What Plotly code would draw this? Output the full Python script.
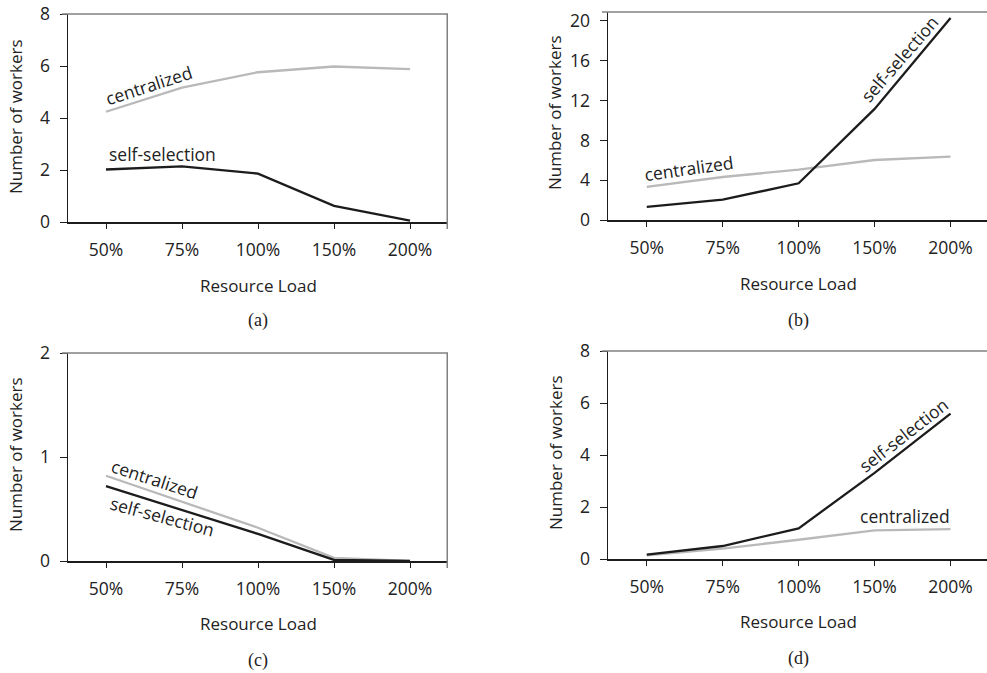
import plotly.graph_objects as go

# ---- data ----
loads = ["50%", "75%", "100%", "150%", "200%"]

a_centralized = [4.24, 5.17, 5.76, 5.98, 5.88]
a_self = [2.02, 2.14, 1.86, 0.62, 0.05]

b_centralized = [3.32, 4.32, 5.06, 6.03, 6.37]
b_self = [1.31, 2.04, 3.69, 11.16, 20.3]

c_centralized = [0.82, 0.57, 0.32, 0.03, 0.0]
c_self = [0.72, 0.49, 0.26, 0.01, 0.0]

d_centralized = [0.14, 0.40, 0.74, 1.10, 1.15]
d_self = [0.17, 0.50, 1.18, 3.31, 5.59]

W, H = 987, 673
FONT = "Open Sans, Lato, sans-serif"
GRAY = "#b9b9b9"
DARK = "#1c1c1c"
FRAME = "#808080"
TXT = "#222222"


def px(x):
    return x / W


def py(y):
    return 1 - y / H


# panel boxes in pixels: left, right, top, bottom
panels = [
    dict(l=68, r=448, t=14, b=222, yr=[0, 8], dt=2, cen=a_centralized, slf=a_self, xr=[-0.5, 4.5], rline=True),
    dict(l=608, r=987, t=12, b=220, yr=[0, 20.9], dt=4, cen=b_centralized, slf=b_self, xr=[-0.51, 4.48], rline=False),
    dict(l=68, r=448, t=353, b=561, yr=[0, 2], dt=1, cen=c_centralized, slf=c_self, xr=[-0.5, 4.5], rline=True),
    dict(l=608, r=987, t=351, b=559, yr=[0, 8], dt=2, cen=d_centralized, slf=d_self, xr=[-0.51, 4.48], rline=False),
]

fig = go.Figure()
layout = dict(
    template="none",
    width=W, height=H, margin=dict(l=0, r=0, t=0, b=0, pad=0, autoexpand=False),
    paper_bgcolor="white", plot_bgcolor="white", showlegend=False,
    font=dict(family=FONT, size=17, color=TXT),
)
shapes = []
for i, p in enumerate(panels):
    n = "" if i == 0 else str(i + 1)
    xa, ya = "x" + n, "y" + n
    fig.add_trace(go.Scatter(x=loads, y=p["cen"], mode="lines", xaxis=xa, yaxis=ya,
                             line=dict(color=GRAY, width=2.3), hoverinfo="skip"))
    fig.add_trace(go.Scatter(x=loads, y=p["slf"], mode="lines", xaxis=xa, yaxis=ya,
                             line=dict(color=DARK, width=2.3), hoverinfo="skip"))
    layout["xaxis" + n] = dict(
        domain=[px(p["l"]), px(p["r"])], anchor=ya, type="category", automargin=False,
        categoryorder="array", categoryarray=loads, range=p["xr"],
        showline=True, linecolor=DARK, linewidth=1.5, showgrid=False, zeroline=False,
        ticks="outside", ticklen=5, tickcolor=DARK, tickwidth=1,
        tickfont=dict(size=17.5, family=FONT, color=TXT), ticklabelstandoff=6,
    )
    layout["yaxis" + n] = dict(
        domain=[py(p["b"]), py(p["t"])], anchor=xa, range=p["yr"], dtick=p["dt"], tick0=0,
        automargin=False,
        showline=True, linecolor=DARK, linewidth=1.5, showgrid=False, zeroline=False,
        ticks="outside", ticklen=7, tickcolor=DARK, tickwidth=1,
        tickfont=dict(size=17.5, family=FONT, color=TXT), ticklabelstandoff=6,
    )
    # top and right frame lines
    shapes.append(dict(type="line", xref="paper", yref="paper",
                       x0=px(p["l"] - 6), x1=px(p["r"]), y0=py(p["t"]), y1=py(p["t"]),
                       line=dict(color=FRAME, width=1.5)))
    if p["rline"]:
        shapes.append(dict(type="line", xref="paper", yref="paper",
                           x0=px(p["r"] - 0.75), x1=px(p["r"] - 0.75), y0=py(p["b"] + 7), y1=py(p["t"]),
                           line=dict(color=FRAME, width=1.5)))

layout["shapes"] = shapes

anns = []


def text(x, y, s, angle=0, size=17, family=FONT):
    anns.append(dict(x=px(x), y=py(y), xref="paper", yref="paper", text=s, showarrow=False,
                     textangle=angle, xanchor="center", yanchor="middle",
                     font=dict(size=size, family=family, color=TXT)))


# axis titles
for (cx, ycx, cy, rly) in [(258, 15, 117, 285), (798, 555, 113, 283),
                           (258, 15, 455, 623), (798, 555, 453, 621)]:
    text(ycx, cy, "Number of workers", angle=-90)
    text(cx, rly, "Resource Load")

SERIF = "Liberation Serif, Times New Roman, serif"
text(258, 320, "(a)", size=18, family=SERIF)
text(798, 320, "(b)", size=18, family=SERIF)
text(258, 660, "(c)", size=18, family=SERIF)
text(798, 658, "(d)", size=18, family=SERIF)

# in-line series labels
text(149, 85, "centralized", angle=-18, size=17.5)
text(162, 154, "self-selection", size=17.5)
text(689, 168, "centralized", angle=-8, size=17.5)
text(899, 59, "self-selection", angle=-49, size=17.5)
text(155, 479, "centralized", angle=18, size=17.5)
text(162, 516, "self-selection", angle=15, size=17.5)
text(903, 435, "self-selection", angle=-38, size=17.5)
text(905, 516, "centralized", size=17.5)

layout["annotations"] = anns
fig.update_layout(**layout)
fig.write_html("out.html", config={"displayModeBar": False, "staticPlot": True},
               post_script="document.body.style.margin='0';document.body.style.overflow='hidden';")
